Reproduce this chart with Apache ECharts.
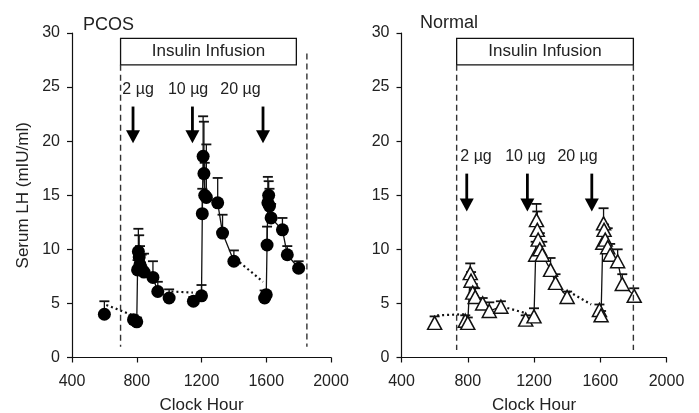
<!DOCTYPE html>
<html><head><meta charset="utf-8">
<script src="https://cdn.jsdelivr.net/npm/echarts@6/dist/echarts.min.js"></script>
<style>html,body{margin:0;padding:0;background:#fff}#c{width:699px;height:413px}</style>
</head><body><div id="c"></div>
<script>
// ---------- DATA ----------
const xMin = 400, xMax = 2000, xStep = 400;
const yMin = 0, yMax = 30, yStep = 5;
const panelTitles = ['PCOS', 'Normal'];
const xAxisName = 'Clock Hour';
const yAxisName = 'Serum LH (mIU/ml)';
const boxText = 'Insulin Infusion';
const doseLabels = ['2 µg', '10 µg', '20 µg'];

// PCOS (filled circles): x = clock hour, y = mean LH, e = top of error bar
const pcosX = [600, 780, 800, 805, 810, 815, 820, 830, 845, 900, 930, 1000,
               1150, 1200, 1205, 1210, 1215, 1220, 1230, 1300, 1330, 1400,
               1590, 1600, 1605, 1610, 1615, 1620, 1630, 1700, 1730, 1800];
const pcosY = [4.0, 3.5, 3.3, 8.1, 9.8, 9.3, 8.6, 8.2, 7.9, 7.4, 6.1, 5.5,
               5.2, 5.7, 13.3, 18.6, 17.0, 15.0, 14.8, 14.3, 11.5, 8.9,
               5.5, 5.8, 10.4, 14.3, 15.0, 14.0, 12.9, 11.8, 9.5, 8.25];
const pcosE = [5.2, 3.9, 3.7, 9.0, 11.9, 11.3, 10.3, 9.5, 9.6, 8.9, 7.0, 6.3,
               5.6, 6.7, 15.6, 22.3, 21.8, 18.0, 19.7, 16.6, 13.2, 9.9,
               6.2, 6.0, 12.1, 16.7, 16.3, 15.6, 14.2, 12.9, 10.3, 8.9];
const pcosSeg = [0, 1, 1, 1, 1, 1, 1, 1, 1, 1, 1, 1,
                 2, 2, 2, 2, 2, 2, 2, 2, 2, 2,
                 3, 3, 3, 3, 3, 3, 3, 3, 3, 3];
// dotted connectors between segments
const pcosDotX0 = [612, 1014, 1436];
const pcosDotY0 = [4.85, 6.1, 8.8];
const pcosDotX1 = [777, 1147, 1580];
const pcosDotY1 = [3.9, 6.0, 7.0];
// infusion box and dashed limits
const pcosBox = [700, 27.06, 1786, 29.5];
const pcosDashX = [700, 1851];
const pcosDashTop = [27.06, 28.1];
const pcosDashBottom = [1.0, 1.0];
// arrows and dose labels
const pcosArrowX = [777, 1144, 1580];
const pcosArrowTop = [23.2, 23.2, 23.2];
const pcosArrowTip = [19.8, 19.8, 19.8];
const pcosLabelX = [808, 1117, 1441];
const pcosLabelY = [24.8, 24.8, 24.8];

// Normal (open triangles)
const normX = [600, 785, 800, 815, 820, 830, 845, 890, 930, 1000,
               1150, 1200, 1210, 1215, 1220, 1225, 1235, 1250, 1300, 1330, 1400,
               1595, 1605, 1615, 1620, 1623, 1630, 1645, 1660, 1705, 1733, 1805];
const normY = [3.2, 3.4, 3.2, 7.8, 7.1, 6.0, 5.6, 5.0, 4.3, 4.7,
               3.5, 3.8, 9.5, 12.7, 11.8, 10.9, 10.0, 9.5, 8.1, 6.9, 5.6,
               4.4, 3.9, 10.6, 12.4, 11.8, 10.9, 10.2, 9.5, 8.9, 6.8, 5.7];
const normE = [3.8, 3.9, 3.7, 8.7, 7.9, 6.8, 6.4, 5.5, 5.1, 5.2,
               3.9, 4.55, 10.7, 14.2, 13.5, 12.2, 11.5, 10.7, 9.2, 7.7, 6.1,
               4.9, 4.3, 12.0, 13.8, 12.3, 12.0, 11.95, 10.5, 10.0, 7.7, 6.4];
const normSeg = [0, 1, 1, 1, 1, 1, 1, 1, 1, 1,
                 2, 2, 2, 2, 2, 2, 2, 2, 2, 2, 2,
                 3, 3, 3, 3, 3, 3, 3, 3, 3, 3, 3];
const normDotX0 = [615, 1010, 1410];
const normDotY0 = [3.9, 4.7, 6.1];
const normDotX1 = [785, 1150, 1545];
const normDotY1 = [4.0, 4.1, 4.9];
const normBox = [733, 27.06, 1800, 29.5];
const normDashX = [733, 1800];
const normDashTop = [27.06, 27.06];
const normDashBottom = [0.7, 0.7];
const normArrowX = [794, 1160, 1549];
const normArrowTop = [17.0, 17.0, 17.0];
const normArrowTip = [13.5, 13.5, 13.5];
const normLabelX = [850, 1148, 1463];
const normLabelY = [18.6, 18.6, 18.6];

// ---------- CHART ----------
const FONT = '"Liberation Sans", Arial, Helvetica, sans-serif';
const INK = '#111';
const TXT = '#222';

const chart = echarts.init(document.getElementById('c'), null, {renderer: 'canvas'});

function axisX(gi) {
  return {
    gridIndex: gi, type: 'value', min: xMin, max: xMax, interval: xStep,
    name: xAxisName, nameLocation: 'middle', nameGap: 39,
    nameTextStyle: {fontSize: 17, color: TXT, fontFamily: FONT},
    axisLine: {show: true, onZero: false, lineStyle: {color: INK, width: 1.2}},
    axisTick: {show: true, length: 5, lineStyle: {color: INK, width: 1.2}},
    axisLabel: {fontSize: 16, color: TXT, fontFamily: FONT, margin: 16, formatter: v => String(v)},
    splitLine: {show: false}
  };
}
function axisY(gi, withName) {
  return {
    gridIndex: gi, type: 'value', min: yMin, max: yMax, interval: yStep,
    name: withName ? yAxisName : '', nameLocation: 'middle', nameGap: 40,
    nameTextStyle: {fontSize: 17, color: TXT, fontFamily: FONT},
    axisLine: {show: true, lineStyle: {color: INK, width: 1.2}},
    axisTick: {show: true, length: 5, lineStyle: {color: INK, width: 1.2}},
    axisLabel: {fontSize: 16, color: TXT, fontFamily: FONT, margin: 12, formatter: v => String(v)},
    splitLine: {show: false}
  };
}

function panelSeries(gi, X, Y, E, S, dX0, dY0, dX1, dY1, box, dashX, dashTop, dashBot,
                     arX, arTop, arTip, lbX, lbY, symbol, filled) {
  const out = [];
  const ax = {xAxisIndex: gi, yAxisIndex: gi};
  for (let i = 0; i < dX0.length; i++) {
    out.push(Object.assign({
      type: 'line', data: [[dX0[i], dY0[i]], [dX1[i], dY1[i]]],
      showSymbol: false, silent: true, z: 2,
      lineStyle: {color: INK, width: 2.2, type: [2, 3]}
    }, ax));
  }
  const segs = [...new Set(S)];
  segs.forEach(s => {
    const pts = [];
    X.forEach((x, i) => { if (S[i] === s) pts.push([x, Y[i]]); });
    if (pts.length > 1) {
      out.push(Object.assign({
        type: 'line', data: pts, showSymbol: false, silent: true, z: 3,
        lineStyle: {color: INK, width: 1.3}
      }, ax));
    }
  });
  out.push(Object.assign({
    type: 'custom', z: 4, silent: true,
    data: X.map((x, i) => [x, Y[i], E[i]]),
    renderItem: (p, api) => {
      const a = api.coord([api.value(0), api.value(1)]);
      const b = api.coord([api.value(0), api.value(2)]);
      return {type: 'group', children: [
        {type: 'line', shape: {x1: a[0], y1: a[1], x2: b[0], y2: b[1]}, style: {stroke: INK, lineWidth: 1.3}},
        {type: 'line', shape: {x1: b[0] - 5, y1: b[1], x2: b[0] + 5, y2: b[1]}, style: {stroke: INK, lineWidth: 1.8}}
      ]};
    }
  }, ax));
  out.push(Object.assign({
    type: 'scatter', z: 5, silent: true,
    data: X.map((x, i) => [x, Y[i]]),
    symbol: symbol, symbolSize: filled ? 13 : [14, 13],
    itemStyle: filled ? {color: '#000', opacity: 1} : {color: '#fff', borderColor: INK, borderWidth: 1.5, opacity: 1}
  }, ax));
  out.push(Object.assign({
    type: 'custom', z: 6, silent: true,
    data: [[box[0], box[1], box[2], box[3]]],
    renderItem: (p, api) => {
      const a = api.coord([api.value(0), api.value(1)]);
      const b = api.coord([api.value(2), api.value(3)]);
      return {type: 'group', children: [
        {type: 'rect', shape: {x: a[0], y: b[1], width: b[0] - a[0], height: a[1] - b[1]},
         style: {fill: '#fff', stroke: INK, lineWidth: 1.3}},
        {type: 'text', x: (a[0] + b[0]) / 2, y: (a[1] + b[1]) / 2,
         style: {text: boxText, fill: TXT, font: '17px ' + FONT, textAlign: 'center', textVerticalAlign: 'middle'}}
      ]};
    }
  }, ax));
  out.push(Object.assign({
    type: 'custom', z: 6, silent: true,
    data: dashX.map((x, i) => [x, dashTop[i], dashBot[i]]),
    renderItem: (p, api) => {
      const a = api.coord([api.value(0), api.value(1)]);
      const b = api.coord([api.value(0), api.value(2)]);
      return {type: 'line', shape: {x1: a[0], y1: a[1], x2: b[0], y2: b[1]},
              style: {stroke: '#333', lineWidth: 1.4, lineDash: [6, 4]}};
    }
  }, ax));
  out.push(Object.assign({
    type: 'custom', z: 7, silent: true,
    data: arX.map((x, i) => [x, arTop[i], arTip[i]]),
    renderItem: (p, api) => {
      const t = api.coord([api.value(0), api.value(1)]);
      const b = api.coord([api.value(0), api.value(2)]);
      const hh = 13, hw = 7;
      return {type: 'group', children: [
        {type: 'line', shape: {x1: t[0], y1: t[1], x2: b[0], y2: b[1] - hh + 1}, style: {stroke: '#000', lineWidth: 2.8}},
        {type: 'polygon', shape: {points: [[b[0] - hw, b[1] - hh], [b[0] + hw, b[1] - hh], [b[0], b[1]]]}, style: {fill: '#000'}}
      ]};
    }
  }, ax));
  out.push(Object.assign({
    type: 'custom', z: 7, silent: true,
    data: lbX.map((x, i) => [x, lbY[i]]),
    renderItem: (p, api) => {
      const c = api.coord([api.value(0), api.value(1)]);
      return {type: 'text', x: c[0], y: c[1],
              style: {text: doseLabels[p.dataIndex], fill: TXT, font: '16px ' + FONT, textAlign: 'center', textVerticalAlign: 'middle'}};
    }
  }, ax));
  return out;
}

const option = {
  backgroundColor: '#fff',
  animation: false,
  title: [
    {text: panelTitles[0], left: 78, top: 11, textStyle: {fontSize: 18, fontWeight: 'normal', color: TXT, fontFamily: FONT}},
    {text: panelTitles[1], left: 415, top: 9, textStyle: {fontSize: 18, fontWeight: 'normal', color: TXT, fontFamily: FONT}}
  ],
  grid: [
    {left: 72, top: 33, width: 259, height: 324.5, containLabel: false, outerBoundsMode: 'none'},
    {left: 401.5, top: 33, width: 265, height: 324.5, containLabel: false, outerBoundsMode: 'none'}
  ],
  xAxis: [axisX(0), axisX(1)],
  yAxis: [axisY(0, true), axisY(1, false)],
  series: [].concat(
    panelSeries(0, pcosX, pcosY, pcosE, pcosSeg, pcosDotX0, pcosDotY0, pcosDotX1, pcosDotY1,
                pcosBox, pcosDashX, pcosDashTop, pcosDashBottom,
                pcosArrowX, pcosArrowTop, pcosArrowTip, pcosLabelX, pcosLabelY, 'circle', true),
    panelSeries(1, normX, normY, normE, normSeg, normDotX0, normDotY0, normDotX1, normDotY1,
                normBox, normDashX, normDashTop, normDashBottom,
                normArrowX, normArrowTop, normArrowTip, normLabelX, normLabelY, 'triangle', false)
  )
};
chart.setOption(option);
</script>
</body></html>
